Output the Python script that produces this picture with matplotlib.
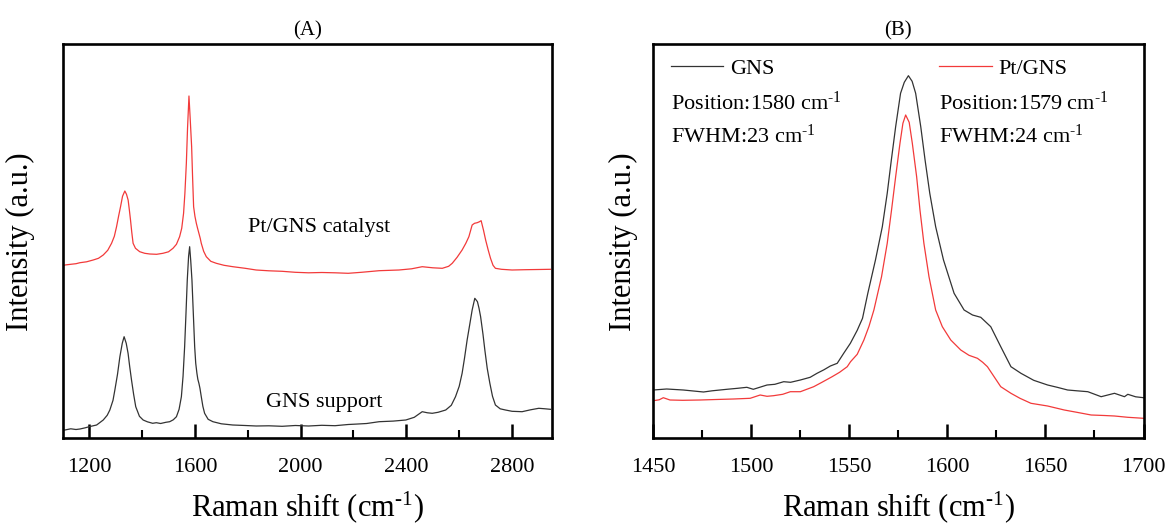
import matplotlib
matplotlib.use("Agg")
import matplotlib.pyplot as plt
from matplotlib.ticker import MultipleLocator, FixedLocator
from matplotlib.legend import Legend

plt.rcParams['font.family'] = ['Liberation Serif', 'DejaVu Serif']
plt.rcParams['mathtext.fontset'] = 'custom'
plt.rcParams['mathtext.rm'] = 'Liberation Serif'
plt.rcParams['mathtext.it'] = 'Liberation Serif:italic'

# ---------------- Panel A data (Raman shift, relative intensity) ----------------
a_gns_x = [1100, 1108, 1130, 1150, 1165, 1185, 1200, 1228, 1253, 1268, 1278, 1290, 1297, 1307,
           1316, 1325, 1332, 1340, 1347, 1353, 1360, 1368, 1376, 1390, 1404, 1420, 1440, 1454,
           1470, 1490, 1504.5, 1518, 1530, 1540, 1548.7, 1555, 1561, 1566, 1571, 1576, 1580,
           1584, 1588.7, 1594, 1599, 1603, 1607.5, 1611, 1615, 1619, 1624, 1630, 1636.6, 1650,
           1668, 1700, 1743, 1790, 1832, 1880, 1930, 1980, 2030, 2080, 2130, 2180, 2210, 2250,
           2297, 2350, 2398, 2430, 2460, 2480, 2498, 2520, 2549, 2570, 2586, 2600, 2611, 2620,
           2630, 2640, 2649, 2659, 2665, 2669, 2675, 2681, 2690, 2697, 2706, 2716, 2726, 2737,
           2755, 2775, 2800, 2838, 2870, 2901, 2925, 2945]
a_gns_y = [8, 8.3, 9.5, 8.8, 9.3, 10.5, 11.6, 13.3, 18.3, 23, 28.3, 38, 48.3, 64,
           81.6, 95, 101.6, 95, 85, 72, 58.3, 44, 31.6, 22, 18.3, 16.5, 15, 15.6,
           14.8, 16, 16.6, 18.5, 21.6, 29, 41.6, 62, 91.6, 124, 158.3, 182, 191.6,
           178, 158.3, 124, 91.6, 75, 65, 59, 55, 50, 41.6, 32, 25, 19,
           16.6, 14.5, 13.3, 12.8, 12.3, 12.5, 12, 12.8, 12.3, 13, 12.6, 13.8, 14.2, 14.8,
           16.6, 17.2, 18.3, 21, 26.6, 25.5, 25, 26, 28.3, 33, 41.6, 52, 65, 80,
           98.3, 114, 128.3, 140, 138, 136.6, 130, 121.6, 104, 88.3, 70, 55, 42, 33.3,
           29.5, 28.3, 27, 26.6, 28.5, 30, 29.5, 29]

a_pt_x = [1100, 1108, 1130, 1150, 1165, 1190, 1215, 1235, 1253, 1270, 1284.5, 1295, 1303.4,
          1311, 1318.5, 1326, 1334.7, 1341, 1347.2, 1352, 1356.2, 1361, 1366, 1375, 1391, 1410,
          1429, 1455, 1479, 1500, 1517, 1530, 1542, 1550, 1557, 1562, 1567.5, 1572, 1577.4,
          1582, 1587.5, 1591, 1595, 1600, 1605.3, 1610, 1615, 1620, 1624, 1633, 1643, 1660,
          1680.8, 1710, 1743.4, 1790, 1831.7, 1880, 1930, 1980, 2030, 2080, 2130, 2180, 2230,
          2297, 2372, 2420, 2460, 2500, 2536, 2560, 2573.6, 2592, 2611, 2625, 2636.6, 2649,
          2658, 2668, 2676, 2683, 2692, 2700, 2710, 2718.5, 2728, 2737, 2760, 2800, 2850,
          2900, 2945]
a_pt_y = [172.5, 173.3, 174, 174.6, 175.6, 176.5, 178.3, 180, 183.3, 188, 195, 202, 211.6,
          222, 231.6, 242, 247.3, 244, 238.3, 228, 218.3, 206, 195, 190, 186.6, 185,
          184.3, 184, 185, 186.5, 190, 194, 201.6, 210, 225, 245, 275, 310, 342.3,
          320, 291.6, 262, 231.6, 222, 215, 210, 205, 200, 195, 187, 181.6, 177,
          175, 173, 171.6, 170, 168.3, 167.5, 167, 166, 165.5, 165.8, 165.5, 165, 166,
          167.6, 168.3, 169.5, 171.6, 170.5, 170, 172, 175, 181, 188.3, 195, 201.6, 213.3,
          215, 215.6, 216.5, 217.6, 208, 198.3, 188, 180, 173, 170, 169, 168.3, 168.6,
          168.8, 169]

a_xticks = [1200, 1600, 2000, 2400, 2800]
a_xlim = (1100, 2950)
a_ylim = (0, 394)
a_labels = ["Pt/GNS catalyst", "GNS support"]
a_label_pos = [(2070, 211), (2090, 36)]

# ---------------- Panel B data ----------------
b_gns_x = [1450, 1456.8, 1465.3, 1475.6, 1480, 1487.5, 1493, 1497.7, 1501, 1508, 1512, 1516.5,
           1520, 1525, 1530, 1533.5, 1537, 1540.3, 1543.8, 1547.1, 1550.5, 1554, 1556.7,
           1559.4, 1563.3, 1566.8, 1569.3, 1571.4, 1573.6, 1576.1, 1578, 1580.1, 1582, 1583.8,
           1586.4, 1588.6, 1591, 1594, 1598, 1603.4, 1608.5, 1612.8, 1617, 1622.1, 1627.2,
           1632.4, 1637.5, 1644, 1651.1, 1656, 1661.3, 1666, 1671.6, 1678.4, 1685.2, 1690.3,
           1692, 1696, 1700]
b_gns_y = [48.3, 49.3, 48.3, 46.3, 47.5, 49, 50, 51, 49, 53.3, 54, 56.6,
           56, 58.3, 61, 65, 68.5, 72.3, 75, 85, 95, 108, 120,
           145, 178.3, 211.6, 245, 278.3, 311.6, 345, 356, 362.6, 357, 345,
           311.6, 278.3, 245, 211.6, 178.3, 145, 128.3, 123.3, 121, 111.6, 91.6,
           71.6, 65, 58, 53.3, 51, 48.3, 47.5, 46.6, 41.6, 45, 41.6,
           44, 41.5, 40.6]

b_pt_x = [1450, 1453, 1455.1, 1458.5, 1465, 1473.9, 1482, 1490.9, 1499.4, 1504.5, 1508, 1511.3,
          1516, 1519.9, 1525, 1531.8, 1536, 1541.2, 1545, 1548.9, 1550.6, 1554, 1557.4, 1560,
          1562.5, 1566.4, 1569.3, 1571.5, 1573.6, 1575.8, 1577.3, 1578.7, 1580.5, 1582.1,
          1584.3, 1586, 1588, 1590.6, 1594, 1597.4, 1601.7, 1606.8, 1611, 1615.3, 1618,
          1620.4, 1623.8, 1627.2, 1632.4, 1637, 1642.6, 1651.1, 1659.6, 1666, 1673.3, 1680,
          1685.2, 1692, 1696, 1700]
b_pt_y = [37.6, 38.5, 40.6, 38.3, 38, 38.3, 38.8, 39.3, 40, 43.3, 42, 42.6,
          44, 46.6, 46.6, 51.6, 56, 61.6, 66, 71.6, 76.6, 84, 98.3, 112,
          128.3, 161.6, 195, 228.3, 261.6, 295, 315, 323.3, 316, 295,
          261.6, 228.3, 195, 161.6, 128.3, 111.6, 98.3, 88.3, 83, 80, 76,
          71.6, 61.6, 51.6, 45, 40, 35, 32.3, 28.3, 26, 23.3, 22.8,
          22.3, 21, 20.5, 20]

b_xticks = [1450, 1500, 1550, 1600, 1650, 1700]
b_xlim = (1450, 1700)
b_ylim = (0, 394)
SUP = r"$^{\text{-1}}$"
b_series = ["GNS", "Pt/GNS"]
b_position = ["Position:1580 cm" + SUP, "Position:1579 cm" + SUP]
b_fwhm = ["FWHM:23 cm" + SUP, "FWHM:24 cm" + SUP]

BLACK = '#333333'
RED = '#f23a3a'

fig = plt.figure(figsize=(11.72, 5.23), dpi=100)
W, H = 1172.0, 523.0
axA = fig.add_axes([62.8 / W, 1 - 438.3 / H, 488.9 / W, 394 / H])
axB = fig.add_axes([653.3 / W, 1 - 438.3 / H, 490.2 / W, 394 / H])


def style(ax, xticks, minor_step, xlim, ylim, title, ylabelpad):
    ax.set_xlim(*xlim)
    ax.set_ylim(*ylim)
    ax.xaxis.set_major_locator(FixedLocator(xticks))
    ax.xaxis.set_minor_locator(MultipleLocator(minor_step))
    ax.tick_params(axis='x', which='both', direction='in', top=False, bottom=True,
                   labelsize=16, pad=14)
    ax.tick_params(axis='x', which='major', length=10, width=1.8)
    ax.tick_params(axis='x', which='minor', length=5.5, width=1.5)
    ax.tick_params(axis='y', which='both', left=False, right=False, labelleft=False)
    for s in ax.spines.values():
        s.set_linewidth(1.9)
    ax.set_xlabel('Raman shift (cm' + SUP + ')', fontsize=22, labelpad=9)
    ax.set_ylabel('Intensity (a.u.)', fontsize=22, labelpad=ylabelpad)
    ax.set_title(title, fontsize=15, pad=6)


# Panel A
axA.plot(a_gns_x, a_gns_y, color=BLACK, lw=0.9)
axA.plot(a_pt_x, a_pt_y, color=RED, lw=0.9)
style(axA, a_xticks, 200, a_xlim, a_ylim, '(A)', 20)
for lab, (px, py) in zip(a_labels, a_label_pos):
    axA.text(px, py, lab, fontsize=16, ha='center', va='center')

# Panel B
lg, = axB.plot(b_gns_x, b_gns_y, color=BLACK, lw=0.9)
lr, = axB.plot(b_pt_x, b_pt_y, color=RED, lw=0.9)
style(axB, b_xticks, 25, b_xlim, b_ylim, '(B)', 11)

x_groups = [0.0355, 0.5828]
for line, name, pos, fw, xg in zip([lg, lr], b_series, b_position, b_fwhm, x_groups):
    leg = Legend(axB, [line], [name], loc='lower left', bbox_to_anchor=(xg, 0.912),
                 frameon=False, fontsize=16, handlelength=2.37, handletextpad=0.3,
                 borderpad=0, borderaxespad=0)
    axB.add_artist(leg)
    axB.text(xg, 0.8333, pos, transform=axB.transAxes, fontsize=16, va='baseline', ha='left')
    axB.text(xg, 0.7495, fw, transform=axB.transAxes, fontsize=16, va='baseline', ha='left')

fig.savefig('out.png', dpi=100)
